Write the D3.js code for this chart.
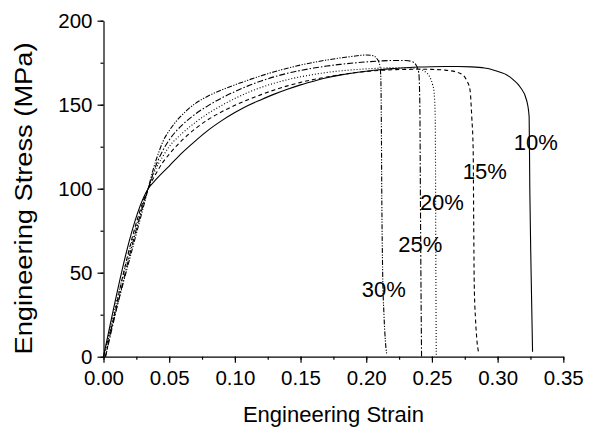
<!DOCTYPE html>
<html>
<head>
<meta charset="utf-8">
<script src="https://cdn.jsdelivr.net/npm/d3@7"></script>
<style>
  html, body { margin: 0; padding: 0; background: #fff; }
  svg { display: block; font-family: "Liberation Sans", Arial, sans-serif; }
</style>
</head>
<body>
<svg id="chart" width="593" height="428"></svg>
<script>
// ---- data (strain, stress in MPa) ----
const xTicks = [0, 0.05, 0.10, 0.15, 0.20, 0.25, 0.30, 0.35];
const yTicks = [0, 50, 100, 150, 200];
const xTitle = "Engineering Strain";
const yTitle = "Engineering Stress (MPa)";

const curve10 = [[0,0],[0.034,100],[0.04,105.5],[0.05,113.5],[0.06,121.5],[0.07,128.5],[0.08,135],[0.09,140.5],[0.1,145.3],[0.11,149.5],[0.12,153],[0.13,156.3],[0.14,159.2],[0.15,161.8],[0.16,164],[0.17,166],[0.18,167.6],[0.19,168.9],[0.2,169.9],[0.21,170.8],[0.22,171.5],[0.23,172],[0.24,172.4],[0.25,172.6],[0.26,172.7],[0.27,172.7],[0.28,172.5],[0.29,171.8],[0.2966,170.7],[0.302,169.3],[0.307,167.7],[0.312,164.8],[0.317,160.7],[0.322,152.8],[0.324,142.9],[0.3245,100],[0.3255,50],[0.3266,3]];
const curve15 = [[0.0015,0],[0.034,100],[0.04,109],[0.045,115.5],[0.05,120.5],[0.06,129],[0.07,135.8],[0.08,141.3],[0.09,145.8],[0.1,149.6],[0.11,153],[0.12,156],[0.13,158.8],[0.14,161.2],[0.15,163.3],[0.16,165],[0.17,166.5],[0.18,167.8],[0.19,168.9],[0.2,169.8],[0.21,170.4],[0.22,170.8],[0.23,171],[0.24,171.1],[0.25,171],[0.26,170.6],[0.2713,168.7],[0.2763,164.7],[0.279,158.7],[0.2803,143],[0.2814,123],[0.2818,80],[0.2822,43.7],[0.2832,22],[0.284,12],[0.2857,2]];
const curve20 = [[0,0],[0.034,100],[0.04,112],[0.045,119],[0.05,125],[0.06,133],[0.07,139.5],[0.08,145],[0.09,149.6],[0.1,153.7],[0.11,157.3],[0.12,160.3],[0.13,162.8],[0.14,164.9],[0.15,166.6],[0.16,168],[0.17,169.2],[0.18,170.1],[0.19,170.8],[0.2,171.3],[0.21,171.7],[0.22,172],[0.23,172],[0.24,171.3],[0.245,169.5],[0.2484,166.5],[0.2505,162],[0.2515,158.5],[0.2525,143],[0.2528,100],[0.253,50],[0.2533,0]];
const curve25 = [[0.0015,0],[0.034,100],[0.04,114],[0.045,122.5],[0.05,129],[0.06,138],[0.07,144.5],[0.08,149.6],[0.09,154],[0.1,157.8],[0.11,161.2],[0.12,164.1],[0.13,166.6],[0.14,168.7],[0.15,170.4],[0.16,171.8],[0.17,173],[0.18,174],[0.19,174.8],[0.2,175.5],[0.21,176],[0.22,176.3],[0.23,176.3],[0.235,175.6],[0.238,173.5],[0.24,169],[0.2408,150],[0.2412,100],[0.2416,50],[0.2421,0]];
const curve30 = [[0,0],[0.034,100],[0.038,112],[0.042,121.5],[0.0455,128.5],[0.05,134.5],[0.055,139.8],[0.063,146.3],[0.07,150.8],[0.08,155.3],[0.09,158.8],[0.1,161.8],[0.11,164.6],[0.12,167.2],[0.13,169.6],[0.14,171.7],[0.15,173.6],[0.16,175.2],[0.17,176.6],[0.18,177.8],[0.19,178.8],[0.195,179.3],[0.2,179.6],[0.205,179.2],[0.208,177.5],[0.21,174.5],[0.211,168],[0.2115,140],[0.2118,100],[0.2125,50],[0.2135,25],[0.2145,10],[0.2155,2]];

const seriesNames = ["10%", "15%", "20%", "25%", "30%"];
const seriesData = [curve10, curve15, curve20, curve25, curve30];
// label anchor points (strain, stress at text baseline) for the percentage labels
const labelPos = [[0.3290,123],[0.2902,105.5],[0.2576,87.3],[0.2412,62.5],[0.2134,35.4]];

// ---- layout ----
const W = 593, H = 428;
const margin = {left: 103.5, top: 20.7, right: 29.7, bottom: 71.3};
const iw = W - margin.left - margin.right;
const ih = H - margin.top - margin.bottom;
const dashes = [null, "4,3", "1,2", "6,2,1.5,2", "5,1.5,1.2,1.5,1.2,1.5"];

const svg = d3.select("#chart");
const g = svg.append("g").attr("transform", `translate(${margin.left},${margin.top})`);

const x = d3.scaleLinear().domain([0, 0.35]).range([0, iw]);
const y = d3.scaleLinear().domain([0, 200]).range([ih, 0]);

// axes (major + minor)
const xMinor = d3.range(0, 0.3501, 0.025);
const yMinor = d3.range(0, 200.01, 25);

g.append("g").attr("transform", `translate(0,${ih})`)
  .call(d3.axisBottom(x).tickValues(xMinor).tickSize(3).tickFormat(""))
  .call(a => a.select(".domain").remove());
g.append("g").attr("transform", `translate(0,${ih})`)
  .call(d3.axisBottom(x).tickValues(xTicks).tickSize(6).tickSizeOuter(0).tickPadding(8).tickFormat(d3.format(".2f")))
  .call(a => a.selectAll("text").attr("font-size", 20.5).attr("font-family", "Liberation Sans, Arial, sans-serif").attr("fill", "#000"));

g.append("g")
  .call(d3.axisLeft(y).tickValues(yMinor).tickSize(3).tickFormat(""))
  .call(a => a.select(".domain").remove());
g.append("g")
  .call(d3.axisLeft(y).tickValues(yTicks).tickSize(6).tickSizeOuter(0).tickPadding(5).tickFormat(d3.format("d")))
  .call(a => a.selectAll("text").attr("font-size", 20.5).attr("font-family", "Liberation Sans, Arial, sans-serif").attr("fill", "#000"));

svg.selectAll(".domain, .tick line").attr("stroke", "#000").attr("stroke-width", 1.2);

// curves
const line = d3.line().x(d => x(d[0])).y(d => y(d[1])).curve(d3.curveMonotoneX);
seriesData.forEach((s, i) => {
  g.append("path").datum(s)
    .attr("d", line)
    .attr("fill", "none")
    .attr("stroke", "#000")
    .attr("stroke-width", 1.1)
    .attr("stroke-dasharray", dashes[i]);
});

// labels
seriesNames.forEach((n, i) => {
  g.append("text")
    .attr("x", x(labelPos[i][0]))
    .attr("y", y(labelPos[i][1]))
    .attr("text-anchor", "middle")
    .attr("font-size", 22)
    .attr("fill", "#000")
    .text(n);
});

// titles
svg.append("text")
  .attr("x", margin.left + iw / 2)
  .attr("y", 421.5)
  .attr("text-anchor", "middle")
  .attr("font-size", 22)
  .text(xTitle);

svg.append("text")
  .attr("transform", `translate(32,198.5) rotate(-90)`)
  .attr("text-anchor", "middle")
  .attr("font-size", 23)
  .attr("textLength", 312)
  .attr("lengthAdjust", "spacingAndGlyphs")
  .text(yTitle);
</script>
</body>
</html>
